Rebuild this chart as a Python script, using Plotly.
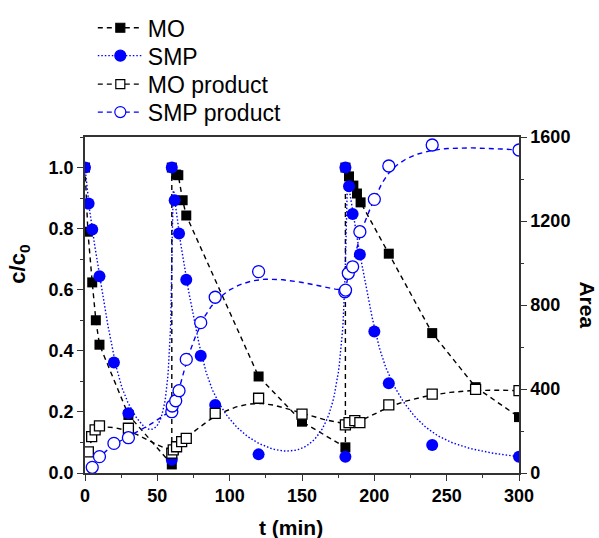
import numpy as np
import plotly.graph_objects as go

# ---------------- data ----------------
t_mo = [0, 2, 5, 7.5, 10, 30, 60, 60, 63, 64.5, 67.5, 70, 120, 150, 180,
        180, 182.5, 185.5, 188, 190.5, 210, 240, 270, 300]
c_mo = [1.0, 0.79, 0.624, 0.50, 0.42, 0.19, 0.028, 1.0, 0.977, 0.975, 0.893, 0.843, 0.316, 0.168, 0.084,
        1.0, 0.971, 0.941, 0.915, 0.886, 0.718, 0.458, 0.281, 0.183]

t_smp = [0, 2.5, 5, 10, 20, 30, 60, 60, 62, 65, 70, 80, 90, 120, 180,
         180, 182.5, 185, 190, 200, 210, 240, 300]
c_smp = [1.0, 0.882, 0.797, 0.644, 0.362, 0.196, 0.043, 1.0, 0.893, 0.784, 0.633, 0.384, 0.223, 0.061, 0.053,
         1.0, 0.939, 0.848, 0.715, 0.463, 0.294, 0.092, 0.053]

t_mop = [2.3, 4.6, 7, 10, 30, 60, 61, 63.3, 66.8, 70, 90, 120, 150, 180, 182.5, 186.5, 190, 210, 240, 270, 300]
a_mop = [101, 173, 205, 224, 213, 94, 110, 125, 149, 165, 284, 356, 280, 229, 240, 249, 240, 324, 376, 398, 392]

t_smpp = [5, 10, 20, 30, 60, 60.3, 62.7, 65, 70, 80, 90, 120, 179.6, 180.1, 182, 185, 190, 200, 210, 240, 300]
a_smpp = [27, 78, 141, 168, 292, 319, 344, 392, 541, 716, 837, 959, 863, 871, 951, 982, 1149, 1303, 1462, 1562, 1538]

series_names = ["MO", "SMP", "MO product", "SMP product"]
x_ticks = [0, 50, 100, 150, 200, 250, 300]
y_ticks = [0.0, 0.2, 0.4, 0.6, 0.8, 1.0]
y2_ticks = [0, 400, 800, 1200, 1600]


def bspline(xs, ys, n=24):
    """Clamped uniform cubic B-spline using the data points as control points."""
    P = np.column_stack([xs, ys]).astype(float)
    P = np.vstack([P[0], P[0], P, P[-1], P[-1]])
    M = np.array([[-1, 3, -3, 1], [3, -6, 3, 0], [-3, 0, 3, 0], [1, 4, 1, 0]]) / 6.0
    out = []
    nseg = len(P) - 3
    for i in range(nseg):
        G = P[i:i + 4]
        for u in np.linspace(0, 1, n, endpoint=(i == nseg - 1)):
            U = np.array([u ** 3, u ** 2, u, 1.0])
            out.append(U @ M @ G)
    out = np.array(out)
    return out[:, 0], out[:, 1]


BLUE = "#0000FF"
FONT = "Arial, Liberation Sans, Helvetica, sans-serif"
DASH = "5px,4px"
DOT = "1.5px,2px"

fig = go.Figure()

# MO (linear dashed black)
fig.add_trace(go.Scatter(x=t_mo, y=c_mo, mode="lines+markers", showlegend=False,
                         line=dict(color="black", width=1.4, dash=DASH),
                         marker=dict(symbol="square", size=10, color="black")))

# SMP (B-spline dotted blue)
bx, by = bspline(t_smp, c_smp)
fig.add_trace(go.Scatter(x=bx, y=by, mode="lines", showlegend=False,
                         line=dict(color=BLUE, width=1.4, dash=DOT)))
fig.add_trace(go.Scatter(x=t_smp, y=c_smp, mode="markers", showlegend=False,
                         marker=dict(symbol="circle", size=12, color=BLUE)))

# MO product (B-spline dashed black, right axis)
bx, by = bspline(t_mop, a_mop)
fig.add_trace(go.Scatter(x=bx, y=by, yaxis="y2", mode="lines", showlegend=False,
                         line=dict(color="black", width=1.4, dash=DASH)))
fig.add_trace(go.Scatter(x=t_mop, y=a_mop, yaxis="y2", mode="markers", showlegend=False,
                         marker=dict(symbol="square", size=10, color="white",
                                     line=dict(color="black", width=1.3))))

# SMP product (B-spline dashed blue, right axis)
bx, by = bspline(t_smpp, a_smpp)
fig.add_trace(go.Scatter(x=bx, y=by, yaxis="y2", mode="lines", showlegend=False,
                         line=dict(color=BLUE, width=1.4, dash=DASH)))
fig.add_trace(go.Scatter(x=t_smpp, y=a_smpp, yaxis="y2", mode="markers", showlegend=False,
                         marker=dict(symbol="circle", size=12, color="white",
                                     line=dict(color=BLUE, width=1.3))))

# legend entries: one small legend per row so the row spacing matches
legend_styles = [
    ("black", DASH, "square", "black", "black"),
    (BLUE, DOT, "circle", BLUE, BLUE),
    ("black", DASH, "square", "white", "black"),
    (BLUE, DASH, "circle", "white", BLUE),
]
legend_keys = ["legend", "legend2", "legend3", "legend4"]
legend_rows_y = [1.325, 1.242, 1.157, 1.074]
for name, (lc, dash, sym, fc, ec), key in zip(series_names, legend_styles, legend_keys):
    fig.add_trace(go.Scatter(x=[None], y=[None], mode="lines+markers", name=name, legend=key,
                             line=dict(color=lc, width=1.3, dash=dash),
                             marker=dict(symbol=sym, size=9 if sym == "square" else 11, color=fc,
                                         line=dict(color=ec, width=1.2))))

axis_common = dict(showgrid=False, zeroline=False, showline=True, linecolor="#333333", linewidth=1.5,
                   ticks="outside", ticklen=6, tickwidth=1.3, tickcolor="#333333",
                   tickfont=dict(family=FONT, size=18, color="black", weight="bold"))

layout_legends = {}
for key, yy in zip(legend_keys, legend_rows_y):
    layout_legends[key] = dict(x=0.018, y=yy, xanchor="left", yanchor="middle",
                               font=dict(family=FONT, size=23, color="black"),
                               bgcolor="rgba(0,0,0,0)", itemwidth=45)

fig.update_layout(
    width=599, height=538,
    margin=dict(l=85, r=80, t=137, b=65, autoexpand=False),
    paper_bgcolor="white", plot_bgcolor="white",
    xaxis=dict(range=[0, 300], tickvals=x_ticks, mirror=True,
               minor=dict(dtick=25, ticks="outside", ticklen=3, tickcolor="#333333"),
               **axis_common),
    yaxis=dict(range=[0, 1.1], tickvals=y_ticks, tickformat=".1f",
               minor=dict(dtick=0.1, ticks="outside", ticklen=3, tickcolor="#333333"),
               **axis_common),
    yaxis2=dict(range=[0, 1600], tickvals=y2_ticks, overlaying="y", side="right",
                minor=dict(dtick=200, ticks="outside", ticklen=3, tickcolor="#333333"),
                **axis_common),
    annotations=[
        dict(text="<b>t (min)</b>", xref="paper", yref="paper", x=0.475, y=-0.161,
             xanchor="center", yanchor="middle", showarrow=False,
             font=dict(family=FONT, size=21, color="black")),
        dict(text="<b>c/c<sub>0</sub></b>", xref="paper", yref="paper", x=-0.152, y=0.62,
             xanchor="center", yanchor="middle", showarrow=False, textangle=-90,
             font=dict(family=FONT, size=22, color="black")),
        dict(text="<b>Area</b>", xref="paper", yref="paper", x=1.158, y=0.5,
             xanchor="center", yanchor="middle", showarrow=False, textangle=90,
             font=dict(family=FONT, size=21, color="black")),
    ],
    **layout_legends,
)

fig.write_html("out.html")
